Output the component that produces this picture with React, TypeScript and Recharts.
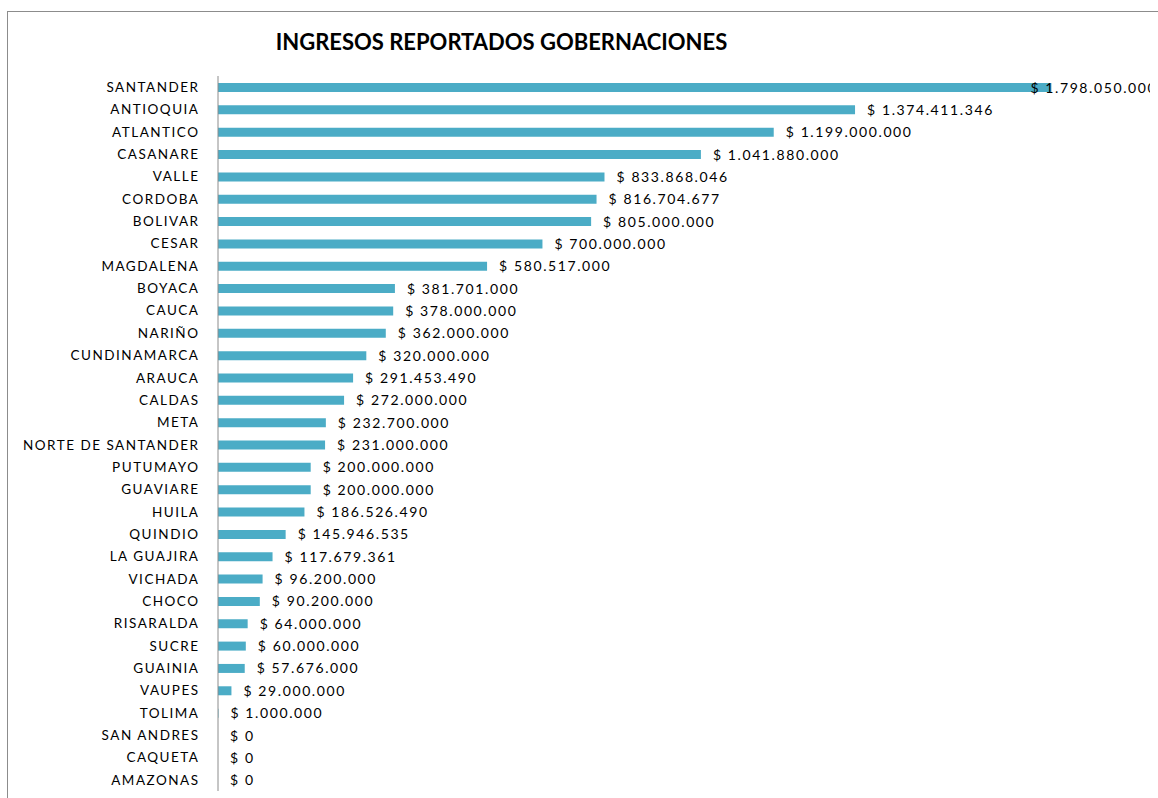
import React from "react";
import { BarChart, Bar, XAxis, YAxis, LabelList } from "recharts";

const categories = [
  "SANTANDER", "ANTIOQUIA", "ATLANTICO", "CASANARE", "VALLE", "CORDOBA", "BOLIVAR", "CESAR",
  "MAGDALENA", "BOYACA", "CAUCA", "NARIÑO", "CUNDINAMARCA", "ARAUCA", "CALDAS", "META",
  "NORTE DE SANTANDER", "PUTUMAYO", "GUAVIARE", "HUILA", "QUINDIO", "LA GUAJIRA", "VICHADA",
  "CHOCO", "RISARALDA", "SUCRE", "GUAINIA", "VAUPES", "TOLIMA", "SAN ANDRES", "CAQUETA", "AMAZONAS",
];

const ingresos = [
  1798050000, 1374411346, 1199000000, 1041880000, 833868046, 816704677, 805000000, 700000000,
  580517000, 381701000, 378000000, 362000000, 320000000, 291453490, 272000000, 232700000,
  231000000, 200000000, 200000000, 186526490, 145946535, 117679361, 96200000,
  90200000, 64000000, 60000000, 57676000, 29000000, 1000000, 0, 0, 0,
];

const title = "INGRESOS REPORTADOS GOBERNACIONES";

const data = categories.map((name, i) => ({ name, value: ingresos[i] }));

const FONT = "Lato, 'Open Sans', sans-serif";

const fmt = (v: number) => "$ " + Math.round(v).toString().replace(/\B(?=(\d{3})+(?!\d))/g, ".");

const ValueLabel = (props: any) => {
  const { x, y, width, height, value } = props;
  const end = x + (width || 0);
  const lx = end + 12 > 1000 ? end - 21 : end + 12;
  return (
    <text
      x={lx}
      y={y + height / 2}
      dy="0.36em"
      fontSize={14}
      letterSpacing={1.6}
      fontFamily={FONT}
      fill="#000"
      textAnchor="start"
    >
      {fmt(value)}
    </text>
  );
};

const CatTick = (props: any) => {
  const { x, y, payload } = props;
  return (
    <text
      x={x + 1.5}
      y={y}
      dy="0.36em"
      fontSize={13.5}
      letterSpacing={1.5}
      fontFamily={FONT}
      fill="#000"
      textAnchor="end"
    >
      {payload.value}
    </text>
  );
};

export default function App() {
  return (
    <div style={{ position: "relative", width: 1142, height: 786, marginTop: 4 }}>
      <div style={{ position: "fixed", left: 7, top: 11, width: 1, height: 800, background: "#8c8c8c", zIndex: 10 }} />
      <div style={{ position: "fixed", left: 7, top: 11, width: 1151, height: 1, background: "#8c8c8c", zIndex: 10 }} />
      <div
        style={{
          position: "absolute",
          left: 0,
          width: 987,
          top: 16,
          textAlign: "center",
          fontFamily: FONT,
          fontWeight: 700,
          fontSize: 22,
          color: "#000",
          zIndex: 2,
        }}
      >
        {title}
      </div>
      <div style={{ position: "absolute", left: 0, top: 0, width: 1150, height: 786 }}>
        <BarChart
          width={1150}
          height={786}
          data={data}
          layout="vertical"
          margin={{ top: 64, right: 13, bottom: 7, left: 0 }}
        >
          <XAxis type="number" hide domain={[0, 2000000000]} />
          <YAxis
            type="category"
            dataKey="name"
            width={210}
            tickLine={false}
            tickSize={0}
            tickMargin={20}
            axisLine={{ stroke: "#8c8c8c" }}
            interval={0}
            tick={<CatTick />}
          />
          <Bar dataKey="value" fill="#4BACC6" barSize={9} minPointSize={0.01} isAnimationActive={false}>
            <LabelList dataKey="value" content={ValueLabel} />
          </Bar>
        </BarChart>
      </div>
    </div>
  );
}
